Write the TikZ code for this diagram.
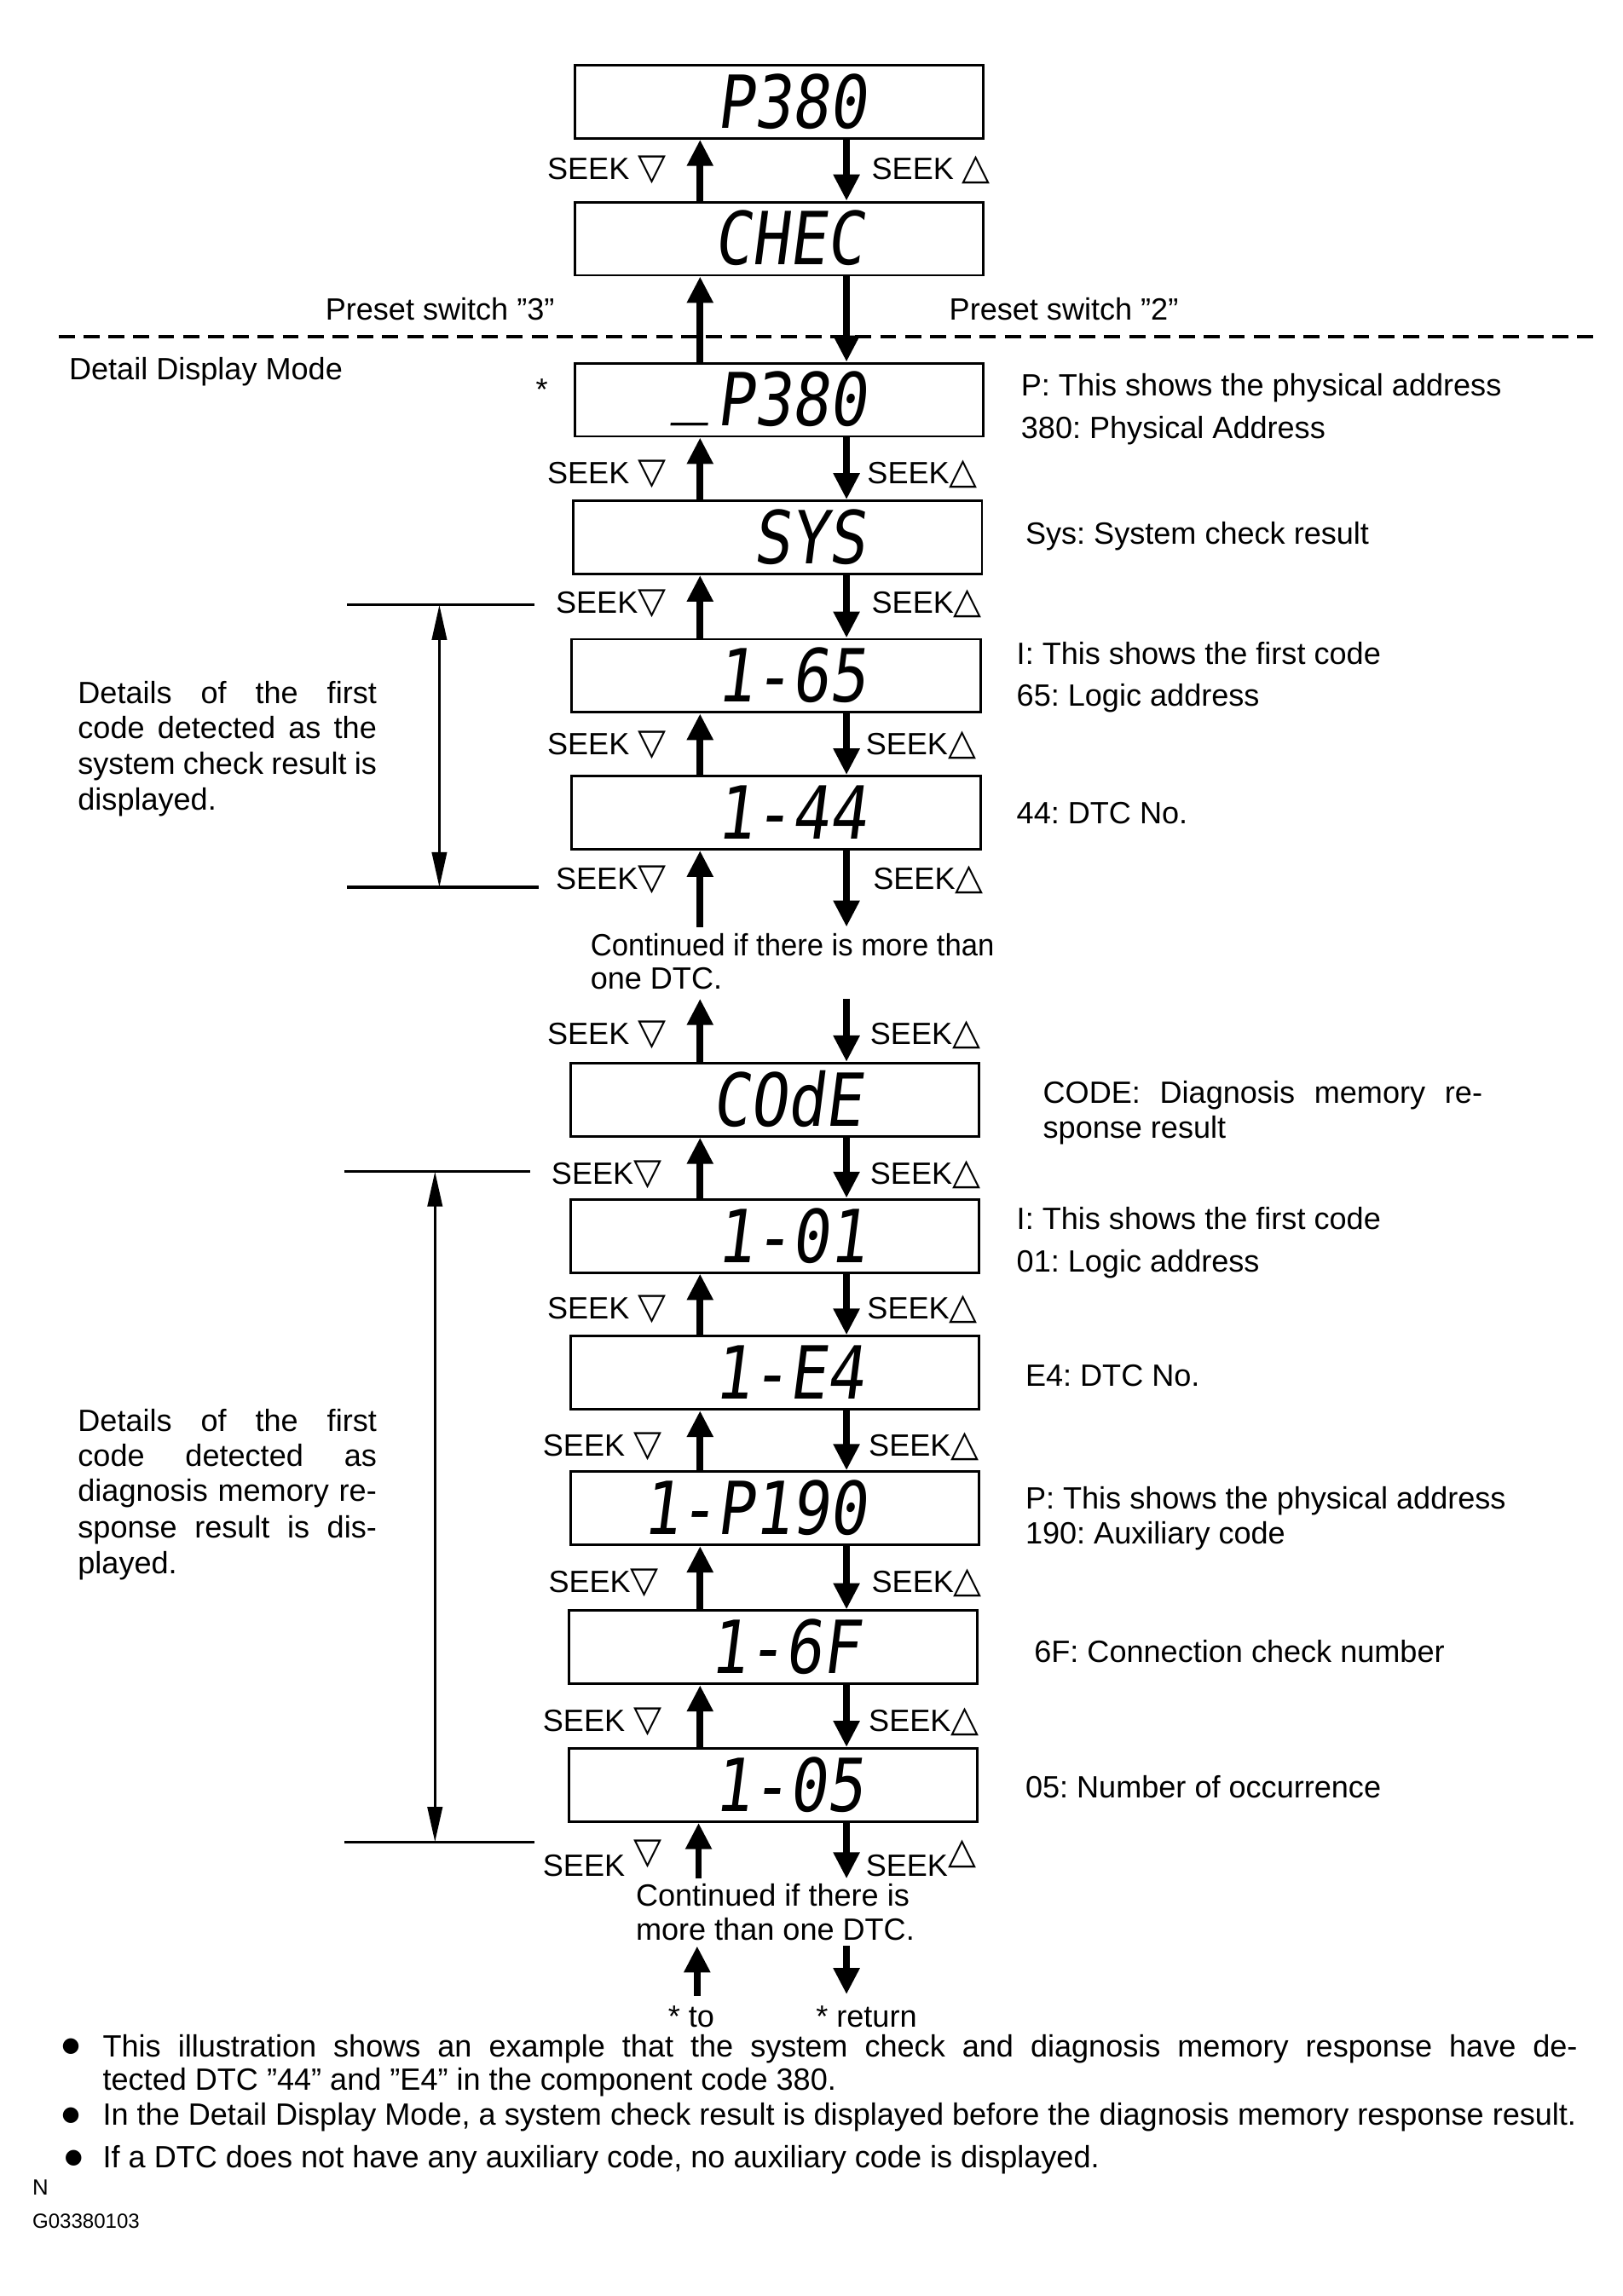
\documentclass[tikz,border=0pt]{standalone}
\usepackage{fontspec}
\setmainfont{Liberation Sans}
\newfontfamily\dvs{DejaVu Sans}
\newfontfamily\lcdfont{DejaVu Sans Mono}[FakeSlant=0.15]
\usetikzlibrary{arrows.meta}
\frenchspacing
\newcommand{\tdn}{{\dvs\fontsize{25}{25}\selectfont ▽}}
\newcommand{\tup}{{\dvs\fontsize{25}{25}\selectfont △}}
\newcommand{\lcd}[1]{\scalebox{0.85}[1]{#1}}
\newcommand{\bdot}{\raisebox{3pt}{\dvs\fontsize{14}{14}\selectfont ●}}
\tikzset{
  lcdbox/.style={draw, line width=1.7pt, minimum width=279pt, minimum height=50pt, inner sep=0pt},
  lcdtxt/.style={anchor=base east, inner sep=0pt, font=\lcdfont\fontsize{50}{50}\selectfont},
  txt/.style={inner sep=0pt, font=\fontsize{21}{24}\selectfont},
  seekl/.style={txt, anchor=base east},
  seekr/.style={txt, anchor=base west},
  note/.style={txt, anchor=base west},
  arr/.style={line width=4.5pt, -{Triangle[length=18pt,width=17pt]}},
  dbl/.style={line width=2pt, {Triangle[length=24pt,width=10pt]}-{Triangle[length=24pt,width=10pt]}},
  brk/.style={line width=2pt},
  dashline/.style={line width=2pt, dash pattern=on 11pt off 6pt},
}
\begin{document}
\begin{tikzpicture}[x=1pt,y=1pt]
\useasboundingbox (0,0) rectangle (1108,-1568);
\coordinate (ux) at (478,0);
\coordinate (dx) at (578,0);

% display boxes
\node[lcdbox] (b1) at (532,-69.5) {};
\node[lcdbox] (b2) at (532,-163) {};
\node[lcdbox] (b3) at (532,-273) {};
\node[lcdbox] (b4) at (531,-367) {};
\node[lcdbox] (b5) at (530,-461.5) {};
\node[lcdbox] (b6) at (530,-555) {};
\node[lcdbox] (b7) at (529,-751) {};
\node[lcdbox] (b8) at (529,-844) {};
\node[lcdbox] (b9) at (529,-937.5) {};
\node[lcdbox] (b10) at (529,-1030) {};
\node[lcdbox] (b11) at (528,-1125) {};
\node[lcdbox] (b12) at (528,-1219) {};

% display texts
\node[lcdtxt] (d1) at (592,-87.5) {\lcd{P380}};
\node[lcdtxt] (d2) at (590,-181) {\lcd{CHEC}};
\node[lcdtxt] (d3) at (592,-291) {\lcd{\raisebox{12pt}{\_}\kern5pt P380}};
\node[lcdtxt] (d4) at (591,-385) {\lcd{SYS}};
\node[lcdtxt] (d5) at (592,-479.5) {\lcd{1-65}};
\node[lcdtxt] (d6) at (592,-573) {\lcd{1-44}};
\node[lcdtxt] (d7) at (589,-769) {\lcd{COdE}};
\node[lcdtxt] (d8) at (592,-862) {\lcd{1-01}};
\node[lcdtxt] (d9) at (590,-955.5) {\lcd{1-E4}};
\node[lcdtxt] (d10) at (592,-1048) {\lcd{1-P190}};
\node[lcdtxt] (d11) at (587,-1143) {\lcd{1-6F}};
\node[lcdtxt] (d12) at (590,-1237) {\lcd{1-05}};

% arrows between boxes
\foreach \a/\b in {b1/b2,b2/b3,b3/b4,b4/b5,b5/b6,b7/b8,b8/b9,b9/b10,b10/b11,b11/b12}{
  \draw[arr] (\b.north -| ux) -- (\a.south -| ux);
  \draw[arr] (\a.south -| dx) -- (\b.north -| dx);
}
\coordinate (c1u) at (478,-633);
\coordinate (c1d) at (578,-633);
\draw[arr] (c1u) -- (b6.south -| ux);
\draw[arr] (b6.south -| dx) -- (c1d);
\coordinate (c2u) at (478,-682);
\coordinate (c2d) at (578,-682);
\draw[arr] (b7.north -| ux) -- (c2u);
\draw[arr] (c2d) -- (b7.north -| dx);
\coordinate (c3u) at (477,-1283);
\coordinate (c3d) at (578,-1283);
\draw[arr] (c3u) -- (b12.south -| c3u);
\draw[arr] (b12.south -| c3d) -- (c3d);
\coordinate (e1a) at (476,-1363);
\coordinate (e1b) at (476,-1329);
\coordinate (e2a) at (578,-1329);
\coordinate (e2b) at (578,-1362);
\draw[arr] (e1a) -- (e1b);
\draw[arr] (e2a) -- (e2b);

% dashed line
\coordinate (dl) at (40,-230);
\coordinate (dr) at (1090,-230);
\draw[dashline] (dl) -- (dr);
\node[note] (ps3) at (222,-218.5) {Preset switch ”3”};
\node[note] (ps2) at (648,-218.5) {Preset switch ”2”};
\node[note] (ddm) at (47,-259.5) {Detail Display Mode};
\node[txt] (ast) at (370,-266) {*};

% SEEK labels
\node[seekl] (s1l) at (455,-122.5) {SEEK \tdn};
\node[seekr] (s1r) at (595,-122.5) {SEEK \tup};
\node[seekl] (s3l) at (455,-330.5) {SEEK \tdn};
\node[seekr] (s3r) at (592,-330.5) {SEEK\tup};
\node[seekl] (s4l) at (455,-418.5) {SEEK\tdn};
\node[seekr] (s4r) at (595,-418.5) {SEEK\tup};
\node[seekl] (s5l) at (455,-515.5) {SEEK \tdn};
\node[seekr] (s5r) at (591,-515.5) {SEEK\tup};
\node[seekl] (s6l) at (455,-607.5) {SEEK\tdn};
\node[seekr] (s6r) at (596,-607.5) {SEEK\tup};
\node[seekl] (s7l) at (455,-713.5) {SEEK \tdn};
\node[seekr] (s7r) at (594,-713.5) {SEEK\tup};
\node[seekl] (s8l) at (452,-808.5) {SEEK\tdn};
\node[seekr] (s8r) at (594,-808.5) {SEEK\tup};
\node[seekl] (s9l) at (455,-900.5) {SEEK \tdn};
\node[seekr] (s9r) at (592,-900.5) {SEEK\tup};
\node[seekl] (s10l) at (452,-994.5) {SEEK \tdn};
\node[seekr] (s10r) at (593,-994.5) {SEEK\tup};
\node[seekl] (s11l) at (450,-1087.5) {SEEK\tdn};
\node[seekr] (s11r) at (595,-1087.5) {SEEK\tup};
\node[seekl] (s12l) at (452,-1182.5) {SEEK \tdn};
\node[seekr] (s12r) at (593,-1182.5) {SEEK\tup};
\node[seekl] (s13l) at (452,-1281.5) {SEEK \raisebox{9pt}{\tdn}};
\node[seekr] (s13r) at (591,-1281.5) {SEEK\raisebox{9pt}{\tup}};

% continued texts
\node[note] (ct1) at (403,-652.5) {\scalebox{0.96}[1]{Continued if there is more than}};
\node[note] (ct2) at (403,-675.5) {one DTC.};
\node[note] (ct3) at (434,-1301.5) {Continued if there is};
\node[note] (ct4) at (434,-1325) {more than one DTC.};
\node[note] (to) at (456,-1384.5) {* to};
\node[note] (ret) at (557,-1384.5) {* return};

% right annotations
\node[note] (r1) at (697,-270.5) {P: This shows the physical address};
\node[note] (r2) at (697,-299.5) {380: Physical Address};
\node[note] (r3) at (700,-371.5) {Sys: System check result};
\node[note] (r4) at (694,-453.5) {I: This shows the first code};
\node[note] (r5) at (694,-482.5) {65: Logic address};
\node[note] (r6) at (694,-562.5) {44: DTC No.};
\node[note] (r7) at (712,-753.5) {\makebox[300pt][s]{CODE: Diagnosis memory re-}};
\node[note] (r8) at (712,-777.5) {sponse result};
\node[note] (r9) at (694,-839.5) {I: This shows the first code};
\node[note] (r10) at (694,-868.5) {01: Logic address};
\node[note] (r11) at (700,-946.5) {E4: DTC No.};
\node[note] (r12) at (700,-1030.5) {P: This shows the physical address};
\node[note] (r13) at (700,-1054.5) {190: Auxiliary code};
\node[note] (r14) at (706,-1135.5) {6F: Connection check number};
\node[note] (r15) at (700,-1227.5) {05: Number of occurrence};

% left brackets
\coordinate (l1a) at (237,-413);
\coordinate (l1b) at (365,-413);
\coordinate (l1c) at (237,-606);
\coordinate (l1d) at (368,-606);
\draw[brk] (l1a) -- (l1b);
\draw[brk] (l1c) -- (l1d);
\coordinate (l1t) at (300,-413);
\coordinate (l1m) at (300,-606);
\draw[dbl] (l1t) -- (l1m);
\node[note] (lt1) at (53,-480.5) {\makebox[204pt][s]{Details of the first}};
\node[note] (lt2) at (53,-504.5) {\makebox[204pt][s]{code detected as the}};
\node[note] (lt3) at (53,-528.5) {\makebox[204pt][s]{system check result is}};
\node[note] (lt4) at (53,-553) {displayed.};

\coordinate (l2a) at (235,-800);
\coordinate (l2b) at (362,-800);
\coordinate (l2c) at (235,-1258);
\coordinate (l2d) at (365,-1258);
\draw[brk] (l2a) -- (l2b);
\draw[brk] (l2c) -- (l2d);
\coordinate (l2t) at (297,-800);
\coordinate (l2m) at (297,-1258);
\draw[dbl] (l2t) -- (l2m);
\node[note] (lu1) at (53,-977.5) {\makebox[204pt][s]{Details of the first}};
\node[note] (lu2) at (53,-1001.5) {\makebox[204pt][s]{code detected as}};
\node[note] (lu3) at (53,-1025.5) {\makebox[204pt][s]{diagnosis memory re-}};
\node[note] (lu4) at (53,-1050) {\makebox[204pt][s]{sponse result is dis-}};
\node[note] (lu5) at (53,-1074.5) {played.};

% bullets
\node[note] (bl1) at (42,-1404.5) {\bdot};
\node[note] (bt1) at (70,-1404.5) {\makebox[1007pt][s]{This illustration shows an example that the system check and diagnosis memory response have de-}};
\node[note] (bt1b) at (70,-1427.5) {tected DTC ”44” and ”E4” in the component code 380.};
\node[note] (bl2) at (42,-1451.5) {\bdot};
\node[note] (bt2) at (70,-1451.5) {In the Detail Display Mode, a system check result is displayed before the diagnosis memory response result.};
\node[note] (bl3) at (44,-1480.5) {\bdot};
\node[note] (bt3) at (70,-1480.5) {If a DTC does not have any auxiliary code, no auxiliary code is displayed.};
\node[txt, anchor=base west, font=\fontsize{15}{15}\selectfont] (nn) at (22,-1499) {N};
\node[txt, anchor=base west, font=\fontsize{14}{14}\selectfont] (gid) at (22,-1522) {G03380103};
\end{tikzpicture}
\end{document}
